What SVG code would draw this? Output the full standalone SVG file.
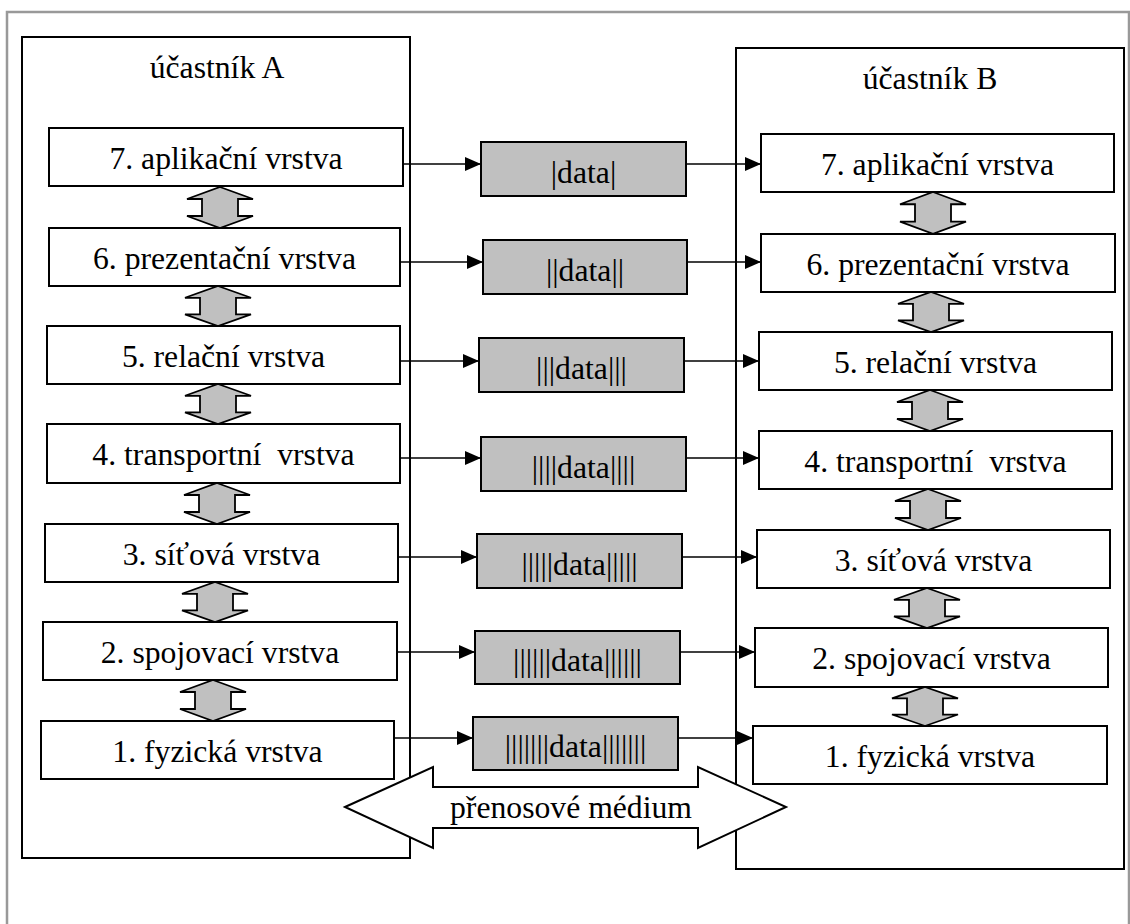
<svg xmlns="http://www.w3.org/2000/svg" width="1130" height="924" viewBox="0 0 1130 924">
<style>
.frame{fill:none;stroke:#999;stroke-width:2.5}
.cont{fill:#fff;stroke:#000;stroke-width:2}
.layer{fill:#fff;stroke:#000;stroke-width:2}
.data{fill:#c0c0c0;stroke:#000;stroke-width:2}
.vy{fill:#c0c0c0;stroke:#000;stroke-width:1.8;stroke-linejoin:miter}
.conn{fill:none;stroke:#000;stroke-width:1.6}
.big{fill:#fff;stroke:#000;stroke-width:2}
.t{font-family:'Liberation Serif',serif;font-size:31.7px;fill:#000;text-anchor:middle}
</style>
<defs>
<marker id="ah" viewBox="0 0 16 14" refX="16" refY="7" markerWidth="16" markerHeight="14" markerUnits="userSpaceOnUse" orient="auto">
<path d="M0,0 L16,7 L0,14 Z" fill="#000"/>
</marker>
<path id="va" d="M0,0 L33,12 L18,12 L18,29 L33,29 L0,41 L-33,29 L-18,29 L-18,12 L-33,12 Z"/>
</defs>
<rect class="frame" x="7" y="12" width="1122" height="940"/>
<g id="containerA"><rect class="cont" x="22" y="37" width="388" height="821"/><text class="t" font-family="Liberation Serif, serif" x="217" y="78">účastník A</text></g>
<g id="containerB"><rect class="cont" x="736" y="48" width="388" height="821"/><text class="t" font-family="Liberation Serif, serif" x="930" y="89">účastník B</text></g>
<g id="connectors">
<line class="conn" x1="403" y1="164" x2="481" y2="164" marker-end="url(#ah)"/>
<line class="conn" x1="686" y1="164" x2="761" y2="164" marker-end="url(#ah)"/>
<line class="conn" x1="400" y1="262" x2="483" y2="262" marker-end="url(#ah)"/>
<line class="conn" x1="687" y1="262" x2="761" y2="262" marker-end="url(#ah)"/>
<line class="conn" x1="400" y1="361" x2="479" y2="361" marker-end="url(#ah)"/>
<line class="conn" x1="684" y1="361" x2="759" y2="361" marker-end="url(#ah)"/>
<line class="conn" x1="400" y1="458" x2="481" y2="458" marker-end="url(#ah)"/>
<line class="conn" x1="686" y1="458" x2="759" y2="458" marker-end="url(#ah)"/>
<line class="conn" x1="398" y1="557" x2="477" y2="557" marker-end="url(#ah)"/>
<line class="conn" x1="682" y1="557" x2="757" y2="557" marker-end="url(#ah)"/>
<line class="conn" x1="397" y1="652" x2="475" y2="652" marker-end="url(#ah)"/>
<line class="conn" x1="680" y1="652" x2="755" y2="652" marker-end="url(#ah)"/>
<line class="conn" x1="394" y1="738" x2="473" y2="738" marker-end="url(#ah)"/>
<line class="conn" x1="678" y1="738" x2="753" y2="738" marker-end="url(#ah)"/>
</g>
<g font-family="Liberation Serif, serif">
<g id="a7"><rect class="layer" x="49" y="128" width="354" height="58"/><text class="t" x="226" y="168.5">7. aplikační vrstva</text></g>
<g id="a6"><rect class="layer" x="49" y="228" width="351" height="58"/><text class="t" x="224.5" y="268.5">6. prezentační vrstva</text></g>
<g id="a5"><rect class="layer" x="47" y="326" width="353" height="58"/><text class="t" x="223.5" y="366.5">5. relační vrstva</text></g>
<g id="a4"><rect class="layer" x="47" y="424" width="353" height="59"/><text class="t" x="223.5" y="465" xml:space="preserve">4. transportní  vrstva</text></g>
<g id="a3"><rect class="layer" x="45" y="524" width="353" height="58"/><text class="t" x="221.5" y="564.5">3. síťová vrstva</text></g>
<g id="a2"><rect class="layer" x="43" y="622" width="354" height="58"/><text class="t" x="220" y="662.5">2. spojovací vrstva</text></g>
<g id="a1"><rect class="layer" x="41" y="721" width="353" height="58"/><text class="t" x="217.5" y="761.5">1. fyzická vrstva</text></g>
<g id="b7"><rect class="layer" x="761" y="134" width="353" height="58"/><text class="t" x="937.5" y="174.5">7. aplikační vrstva</text></g>
<g id="b6"><rect class="layer" x="761" y="234" width="354" height="58"/><text class="t" x="938" y="274.5">6. prezentační vrstva</text></g>
<g id="b5"><rect class="layer" x="759" y="332" width="353" height="58"/><text class="t" x="935.5" y="372.5">5. relační vrstva</text></g>
<g id="b4"><rect class="layer" x="759" y="431" width="353" height="58"/><text class="t" x="935.5" y="471.5" xml:space="preserve">4. transportní  vrstva</text></g>
<g id="b3"><rect class="layer" x="757" y="530" width="353" height="58"/><text class="t" x="933.5" y="570.5">3. síťová vrstva</text></g>
<g id="b2"><rect class="layer" x="755" y="628" width="353" height="59"/><text class="t" x="931.5" y="669">2. spojovací vrstva</text></g>
<g id="b1"><rect class="layer" x="753" y="726" width="354" height="58"/><text class="t" x="930" y="766.5">1. fyzická vrstva</text></g>
<g id="d7"><rect class="data" x="481" y="142" width="205" height="54"/><text class="t" x="583.5" y="182.5">|data|</text></g>
<g id="d6"><rect class="data" x="483" y="240" width="204" height="54"/><text class="t" x="585" y="280.5">||data||</text></g>
<g id="d5"><rect class="data" x="479" y="338" width="205" height="54"/><text class="t" x="581.5" y="378.5">|||data|||</text></g>
<g id="d4"><rect class="data" x="481" y="437" width="205" height="54"/><text class="t" x="583.5" y="477.5">||||data||||</text></g>
<g id="d3"><rect class="data" x="477" y="534" width="205" height="54"/><text class="t" x="579.5" y="574.5">|||||data|||||</text></g>
<g id="d2"><rect class="data" x="475" y="631" width="205" height="53"/><text class="t" x="577.5" y="671">||||||data||||||</text></g>
<g id="d1"><rect class="data" x="473" y="717" width="205" height="53"/><text class="t" x="575.5" y="757">|||||||data|||||||</text></g>
</g>
<g id="vertical-arrows">
<use href="#va" class="vy" transform="translate(220,187)"/>
<use href="#va" class="vy" transform="translate(218,286) scale(1,0.98)"/>
<use href="#va" class="vy" transform="translate(218,384) scale(1,0.98)"/>
<use href="#va" class="vy" transform="translate(217,483)"/>
<use href="#va" class="vy" transform="translate(215,582) scale(1,0.98)"/>
<use href="#va" class="vy" transform="translate(213,680)"/>
<use href="#va" class="vy" transform="translate(933,192) scale(1,1.02)"/>
<use href="#va" class="vy" transform="translate(931,292) scale(1,0.98)"/>
<use href="#va" class="vy" transform="translate(930,390)"/>
<use href="#va" class="vy" transform="translate(928,489)"/>
<use href="#va" class="vy" transform="translate(927,588) scale(1,0.98)"/>
<use href="#va" class="vy" transform="translate(925,687) scale(1,0.95)"/>
</g>
<g id="medium">
<path class="big" d="M345,807 L433,767 L433,787 L698,787 L698,767 L786,807 L698,848 L698,828 L433,828 L433,848 Z"/>
<text class="t" font-family="Liberation Serif, serif" x="571" y="818">přenosové médium</text>
</g>
</svg>
